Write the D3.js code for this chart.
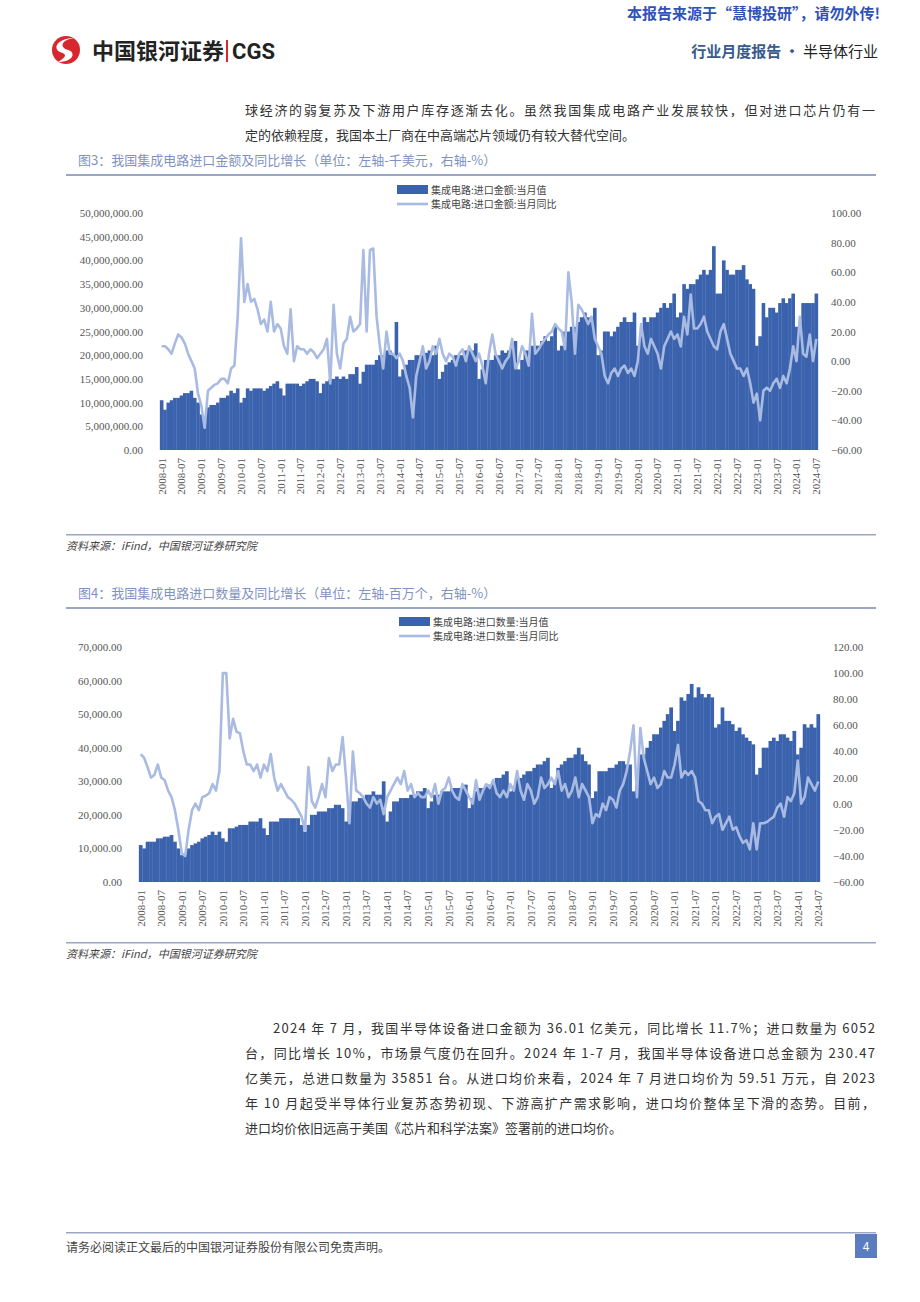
<!DOCTYPE html>
<html><head><meta charset="utf-8">
<script src="https://cdn.jsdelivr.net/npm/d3@7"></script>
<style>
body{margin:0;background:#fff;}
svg{display:block;font-family:"Noto Sans CJK SC","Noto Sans",sans-serif;}
</style></head>
<body>
<svg id="page" width="920" height="1302"></svg>
<script>
// ---- data ----
const months = [];
for (let y = 2008; y <= 2024; y++) for (let m = 1; m <= 12; m++) {
  if (y === 2024 && m > 7) break;
  months.push(`${y}-${String(m).padStart(2, "0")}`);
}
const tickMonths = months.filter((d) => d.endsWith("-01") || d.endsWith("-07"));

// 图3: 进口金额 (千美元, in millions here) and 同比 (%)
const amount = [
  10.5,8.5,10,10.5,11,11,11.5,12,12,12.5,11,10,
  7.5,7,9,9.5,9.5,10,11,11,11.5,12.5,12,13,
  10,11,13,12.5,13,13,13,12.5,13,13.5,14,14.5,
  13,11.5,14,14,14,14,13.5,14,14.5,15,15,14.5,
  12,14,14.5,15,15,15.5,15,15.5,15,16,16,17.5,
  14,16.5,18,18,18,19,20,20,21,21,20,27,
  15.5,17,18,19,19,20,20,20,20.5,21,20,22,
  15,16.5,18,18.5,19,20,20,20,21,21,21,22.5,
  15,17,19,19,19,20,20,21,20.5,21,22,23,
  17,19,21,21,22,22,22,23,24,23,24,26,
  21,22,25,25,26,26,27,28,29,28,28,30,
  20,21,25,25,24,25,26,27,28,27,27,29,
  22,24,28,27,28,28,29,30,31,30,31,33,
  28,29,35,34,35,35,36,37,38,37,38,43,
  33,33,40,38,37,37,38,38,39,36,35,34,
  22,24,31,28,30,30,29,31,32,31,32,33,
  26,27,31,31,31,31,33
];
const amountYoy = [
  10,10,8,5,12,18,16,12,5,0,-5,-22,
  -30,-45,-20,-18,-16,-15,-12,-12,-15,-5,-3,30,
  83,40,52,40,42,35,25,28,20,40,20,25,
  22,10,5,35,0,10,8,8,5,8,6,2,
  5,8,15,-15,38,5,-5,12,15,30,20,22,
  25,75,20,75,76,30,10,-5,20,5,5,2,
  5,0,-10,-18,-38,-10,0,10,-5,0,10,5,
  15,5,0,5,3,-3,5,8,0,10,5,0,
  5,-3,-15,5,18,5,0,-5,0,3,15,-5,
  0,10,5,-3,32,5,8,12,15,18,20,25,
  22,20,8,60,40,5,38,35,30,25,30,15,
  10,5,-10,-15,-8,-5,-10,-5,-3,-8,-5,-10,
  0,25,10,5,15,10,5,-5,10,15,20,15,
  18,10,30,18,45,22,22,25,30,20,15,10,
  8,20,25,15,5,0,-5,-5,-10,-5,-15,-28,
  -22,-40,-20,-18,-20,-15,-12,-18,-10,-15,-5,10,
  0,30,5,3,18,0,15
];

// 图4: 进口数量 (百万个, in thousands here) and 同比 (%)
const qty = [
  11,10,12,12,12,13,13,13.5,13.5,14,12,10,
  8,8.5,10,11,11.5,12,13,13.5,14,15,14,15,
  13,12,16,16,16.5,17,17,17,18,18,18,19,
  16,14,18,18,18,19,19,19,19,19,19,17,
  15,17,20,20,21,21,21,22,22,23,23,22,
  18,21,24,24,25,25,26,26,27,26,26,30,
  18,21,24,24,25,25,25,26,26,27,27,28,
  22,24,26,26,27,27,27,28,28,28,28,29,
  22,25,27,28,28,29,29,30,31,31,32,33,
  27,28,31,31,32,33,33,34,35,35,36,37,
  28,30,34,35,36,37,37,38,40,38,36,35,
  25,27,33,33,33,34,34,35,36,36,35,35,
  27,30,38,38,40,42,44,44,46,48,50,52,
  45,48,55,54,56,59,55,58,56,55,56,55,
  46,47,52,48,48,47,45,46,44,43,42,41,
  32,34,40,40,42,43,42,44,44,43,42,45,
  38,40,47,46,47,46,50
];
const qtyYoy = [
  38,35,28,20,22,30,20,18,10,5,-5,-20,
  -38,-40,-20,-5,0,-5,5,6,8,15,10,25,
  100,100,50,65,55,54,40,30,30,25,30,20,
  30,25,38,20,10,15,10,5,3,0,-5,-10,
  -20,28,2,-3,5,15,5,35,25,30,30,51,
  20,-15,40,10,8,5,0,-3,5,0,3,-8,
  5,10,15,20,15,25,10,15,5,8,5,5,
  10,5,15,0,10,12,20,10,5,3,15,10,
  5,0,18,3,10,15,12,18,8,5,10,5,
  15,10,25,10,3,15,10,0,5,20,12,15,
  20,15,25,10,15,5,10,20,5,15,10,5,
  -15,-8,-10,0,-5,5,3,-3,10,15,25,40,
  60,5,58,35,25,15,20,12,15,25,20,20,
  30,45,20,25,22,25,20,2,0,-5,-5,-15,
  -10,-8,-20,-15,-10,-20,-18,-25,-30,-28,-35,-15,
  -35,-15,-15,-14,-12,-10,-3,0,-10,5,2,8,
  33,0,5,20,15,10,17
];

const leftTicks1 = d3.range(0, 50.1, 5);
const rightTicks1 = d3.range(-60, 100.1, 20);
const leftTicks2 = d3.range(0, 70.1, 10);
const rightTicks2 = d3.range(-60, 120.1, 20);

const BAR = "#3b63ad", LINE = "#a9bbe2", RULE = "#9aa6c6";
const svg = d3.select("#page");
const cjk = '"Noto Sans CJK SC",sans-serif';
const serif = '"Liberation Serif","Noto Sans CJK SC",serif';

// ---- header ----
svg.append("text").attr("x", 880).attr("y", 19).attr("text-anchor", "end")
  .attr("font-size", 15).attr("font-weight", 700).attr("fill", "#2f52b8")
  .text("本报告来源于“慧博投研”，请勿外传!");
const logo = svg.append("g").attr("transform", "translate(52,34)");
logo.append("circle").attr("cx", 14).attr("cy", 16).attr("r", 14).attr("fill", "#d7282f");
logo.append("path").attr("d", "M22,4 C8,6 8,14 16,16 C24,18 22,28 6,28 C16,22 14,20 8,18 C0,14 6,4 22,4Z").attr("fill", "#fff");
svg.append("text").attr("x", 92).attr("y", 59).attr("font-size", 22).attr("font-weight", 700)
  .attr("fill", "#222").text("中国银河证券");
svg.append("rect").attr("x", 226).attr("y", 40).attr("width", 2).attr("height", 22).attr("fill", "#d7282f");
svg.append("text").attr("x", 232).attr("y", 59).attr("font-size", 22).attr("font-weight", 700)
  .attr("font-family", "Roboto,sans-serif").attr("fill", "#222").text("CGS");
const hdr = svg.append("text").attr("x", 878).attr("y", 57).attr("text-anchor", "end").attr("font-size", 15);
hdr.append("tspan").attr("fill", "#3a5a8c").attr("font-weight", 700).text("行业月度报告 · ");
hdr.append("tspan").attr("fill", "#222").text("半导体行业");

// ---- paragraphs ----
const para = (lines, x0, y0, lh, indentFirst) => {
  lines.forEach((t, i) => {
    svg.append("text").attr("x", i === 0 && indentFirst ? x0 + 28 : x0).attr("y", y0 + i * lh)
      .attr("font-size", 13).attr("fill", "#333").attr("font-family", cjk)
      .attr("textLength", i < lines.length - 1 ? 875 - (i === 0 && indentFirst ? x0 + 28 : x0) : null)
      .text(t);
  });
};
para(["球经济的弱复苏及下游用户库存逐渐去化。虽然我国集成电路产业发展较快，但对进口芯片仍有一",
      "定的依赖程度，我国本土厂商在中高端芯片领域仍有较大替代空间。"], 245, 115, 25, false);
// make the last line natural length
svg.selectAll("text").filter(function () { return d3.select(this).text().startsWith("定的"); }).attr("textLength", null);

// ---- chart builder ----
function chart(o) {
  svg.append("text").attr("x", 78).attr("y", o.titleY).attr("font-size", 13)
    .attr("fill", "#7f93c2").text(o.title);
  svg.append("rect").attr("x", 66).attr("y", o.titleY + 9).attr("width", 810).attr("height", 2).attr("fill", RULE);

  const x = d3.scaleBand().domain(months).range([o.x0, o.x1]).padding(0);
  const yL = d3.scaleLinear().domain(o.leftDomain).range([o.y1, o.y0]);
  const yR = d3.scaleLinear().domain(o.rightDomain).range([o.y1, o.y0]);

  const g = svg.append("g");
  g.selectAll("rect.bar").data(o.bars).join("rect").attr("class", "bar")
    .attr("x", (d, i) => x(months[i]) - 0.15).attr("width", x.bandwidth() + 0.3)
    .attr("y", (d) => yL(d)).attr("height", (d) => yL(0) - yL(d)).attr("fill", BAR);
  g.append("path").datum(o.yoy)
    .attr("d", d3.line().x((d, i) => x(months[i]) + x.bandwidth() / 2).y((d) => yR(d)))
    .attr("fill", "none").attr("stroke", LINE).attr("stroke-width", 2.6).attr("stroke-linejoin", "round");

  const axL = g.append("g").attr("transform", `translate(${o.x0 - 14},0)`)
    .call(d3.axisLeft(yL).tickValues(o.leftTicks).tickSize(0)
      .tickFormat((d) => d3.format(",.2f")(d * 1000 * o.leftMul)));
  const axR = g.append("g").attr("transform", `translate(${o.x1 + 10},0)`)
    .call(d3.axisRight(yR).tickValues(o.rightTicks).tickSize(0).tickFormat(d3.format(".2f")));
  const axB = g.append("g").attr("transform", `translate(0,${o.y1 + 4})`)
    .call(d3.axisBottom(x).tickValues(tickMonths).tickSize(0));
  [axL, axR, axB].forEach((a) => {
    a.select(".domain").remove();
    a.selectAll("text").attr("font-family", serif).attr("font-size", 11).attr("fill", "#555");
  });
  axB.selectAll("text").attr("transform", "rotate(-90)").attr("text-anchor", "end")
    .attr("x", -4).attr("y", 0).attr("dy", "0.35em");

  // legend
  const lg = svg.append("g").attr("transform", `translate(${o.legX},${o.legY})`);
  lg.append("rect").attr("x", 0).attr("y", -5).attr("width", 31).attr("height", 9).attr("fill", BAR);
  lg.append("line").attr("x1", 0).attr("x2", 31).attr("y1", 14).attr("y2", 14).attr("stroke", LINE).attr("stroke-width", 2.6);
  lg.append("text").attr("x", 34).attr("y", 4).attr("font-size", 10).attr("fill", "#444").text(o.leg1);
  lg.append("text").attr("x", 34).attr("y", 18).attr("font-size", 10).attr("fill", "#444").text(o.leg2);

  svg.append("rect").attr("x", 66).attr("y", o.srcY - 16).attr("width", 810).attr("height", 1.5).attr("fill", RULE);
  svg.append("text").attr("x", 66).attr("y", o.srcY).attr("font-size", 11).attr("font-style", "italic")
    .attr("fill", "#444").text("资料来源：iFind，中国银河证券研究院");
}

chart({
  title: "图3：我国集成电路进口金额及同比增长（单位：左轴-千美元，右轴-%）", titleY: 165,
  x0: 160, x1: 818, y0: 213, y1: 450,
  leftDomain: [0, 50], rightDomain: [-60, 100], leftTicks: leftTicks1, rightTicks: rightTicks1, leftMul: 1000,
  bars: amount, yoy: amountYoy, legX: 397, legY: 190,
  leg1: "集成电路:进口金额:当月值", leg2: "集成电路:进口金额:当月同比", srcY: 550
});
chart({
  title: "图4：我国集成电路进口数量及同比增长（单位：左轴-百万个，右轴-%）", titleY: 598,
  x0: 139, x1: 820, y0: 647, y1: 882,
  leftDomain: [0, 70], rightDomain: [-60, 120], leftTicks: leftTicks2, rightTicks: rightTicks2, leftMul: 1,
  bars: qty, yoy: qtyYoy, legX: 399, legY: 622,
  leg1: "集成电路:进口数量:当月值", leg2: "集成电路:进口数量:当月同比", srcY: 958
});

// ---- body text ----
const body = [
  "2024 年 7 月，我国半导体设备进口金额为 36.01 亿美元，同比增长 11.7%；进口数量为 6052",
  "台，同比增长 10%，市场景气度仍在回升。2024 年 1-7 月，我国半导体设备进口总金额为 230.47",
  "亿美元，总进口数量为 35851 台。从进口均价来看，2024 年 7 月进口均价为 59.51 万元，自 2023",
  "年 10 月起受半导体行业复苏态势初现、下游高扩产需求影响，进口均价整体呈下滑的态势。目前，",
  "进口均价依旧远高于美国《芯片和科学法案》签署前的进口均价。"
];
body.forEach((t, i) => {
  const x0 = i === 0 ? 273 : 245;
  const el = svg.append("text").attr("x", x0).attr("y", 1033 + i * 25).attr("font-size", 13)
    .attr("fill", "#333").text(t);
  if (i < body.length - 1) el.attr("textLength", 875 - x0).attr("lengthAdjust", "spacing");
});

// ---- footer ----
svg.append("rect").attr("x", 66).attr("y", 1232).attr("width", 810).attr("height", 1.5).attr("fill", RULE);
svg.append("text").attr("x", 66).attr("y", 1252).attr("font-size", 12).attr("fill", "#444")
  .text("请务必阅读正文最后的中国银河证券股份有限公司免责声明。");
svg.append("rect").attr("x", 855).attr("y", 1234).attr("width", 22).attr("height", 24).attr("fill", "#5b7cc0");
svg.append("text").attr("x", 866).attr("y", 1251).attr("text-anchor", "middle").attr("font-size", 12)
  .attr("fill", "#fff").text("4");
</script>
</body></html>
